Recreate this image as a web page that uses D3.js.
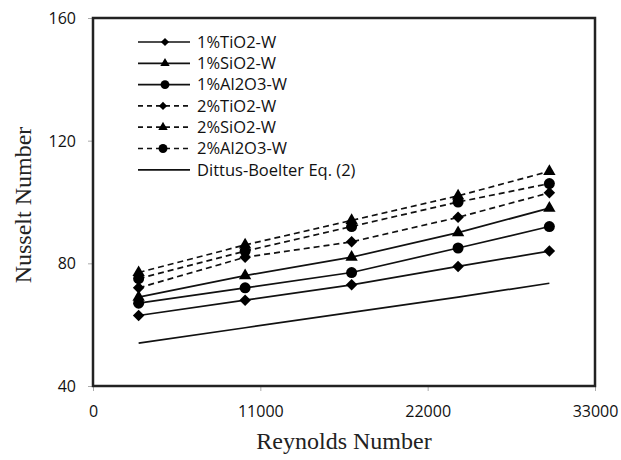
<!DOCTYPE html>
<html lang="en">
<head>
    <meta charset="UTF-8">
    <title>Nusselt vs Reynolds</title>
    <style>
        body { margin: 0; padding: 0; background: #fff; }
        svg { display: block; }
        .tick text { font-family: "Open Sans", sans-serif; font-size: 16px; fill: #111; }
        .axis-title { font-family: "Liberation Serif", "Times New Roman", serif; font-size: 24px; fill: #222; }
        .legend text { font-family: "Open Sans", sans-serif; font-size: 16.5px; fill: #111; }
    </style>
</head>
<body>
<svg id="chart"></svg>

<script src="https://d3js.org/d3.v7.min.js"></script>
<script>
    // Data
    var reynolds = [3000, 10000, 17000, 24000, 30000];
    var tio2_1 = [63, 68, 73, 79, 84];
    var sio2_1 = [69, 76, 82, 90, 98];
    var al2o3_1 = [67, 72, 77, 85, 92];
    var tio2_2 = [72, 82, 87, 95, 103];
    var sio2_2 = [77, 86, 94, 102, 110];
    var al2o3_2 = [75, 84, 92, 100, 106];
    var dittus = [54, 59, 64, 69, 73.5];

    var seriesNames = ["1%TiO2-W", "1%SiO2-W", "1%Al2O3-W", "2%TiO2-W", "2%SiO2-W", "2%Al2O3-W", "Dittus-Boelter Eq. (2)"];
    var seriesValues = [tio2_1, sio2_1, al2o3_1, tio2_2, sio2_2, al2o3_2, dittus];
    var seriesMarkers = ["diamond", "triangle", "circle", "diamond", "triangle", "circle", "none"];
    var seriesDashed = [false, false, false, true, true, true, false];

    var xTicks = [0, 11000, 22000, 33000];
    var yTicks = [40, 80, 120, 160];

    var W = 621, H = 460;
    var margin = {top: 18, right: 26, bottom: 74, left: 93};
    var width = W - margin.left - margin.right,
        height = H - margin.top - margin.bottom;

    var svg = d3.select("#chart").attr("width", W).attr("height", H);
    var g = svg.append("g").attr("transform", "translate(" + margin.left + "," + margin.top + ")");

    var x = d3.scaleLinear().domain([0, 33000]).range([0, width]);
    var y = d3.scaleLinear().domain([40, 160]).range([height, 0]);

    // axes
    var xAxis = g.append("g")
        .attr("transform", "translate(0," + height + ")")
        .call(d3.axisBottom(x).tickValues(xTicks).tickSize(5).tickPadding(15).tickFormat(d3.format("d")));
    var yAxis = g.append("g")
        .call(d3.axisLeft(y).tickValues(yTicks).tickSize(5).tickPadding(12).tickFormat(d3.format("d")));
    [xAxis, yAxis].forEach(function (a) {
        a.select(".domain").remove();
        a.selectAll(".tick line").attr("stroke", "#aaa");
    });
    yAxis.selectAll(".tick text").attr("dy", "0.35em");

    // plot frame
    g.append("rect")
        .attr("x", 0).attr("y", 0)
        .attr("width", width).attr("height", height)
        .attr("fill", "none")
        .attr("stroke", "#222")
        .attr("stroke-width", 2.5);

    function markerPath(type, big) {
        if (type === "diamond") return d3.symbol().type(d3.symbolSquare).size(big ? 66 : 34)();
        if (type === "triangle") return d3.symbol().type(d3.symbolTriangle).size(big ? 66 : 38)();
        if (type === "circle") return d3.symbol().type(d3.symbolCircle).size(big ? 95 : 62)();
        return null;
    }
    function markerRotate(type) {
        return type === "diamond" ? " rotate(45)" : "";
    }

    var line = d3.line()
        .x(function (d, i) { return x(reynolds[i]); })
        .y(function (d) { return y(d); });

    seriesValues.forEach(function (vals, s) {
        g.append("path")
            .attr("d", line(vals))
            .attr("fill", "none")
            .attr("stroke", "#111")
            .attr("stroke-width", 1.7)
            .attr("stroke-dasharray", seriesDashed[s] ? "6,4" : null);
        if (seriesMarkers[s] !== "none") {
            g.selectAll(null).data(vals).enter().append("path")
                .attr("d", markerPath(seriesMarkers[s], true))
                .attr("transform", function (d, i) {
                    return "translate(" + x(reynolds[i]) + "," + y(d) + ")" + markerRotate(seriesMarkers[s]);
                })
                .attr("fill", "#000");
        }
    });

    // legend
    var legend = g.append("g").attr("class", "legend").attr("transform", "translate(45,24)");
    seriesNames.forEach(function (name, s) {
        var row = legend.append("g").attr("transform", "translate(0," + (s * 21.3) + ")");
        row.append("line")
            .attr("x1", 0).attr("x2", 52).attr("y1", 0).attr("y2", 0)
            .attr("stroke", "#111").attr("stroke-width", 1.7)
            .attr("stroke-dasharray", seriesDashed[s] ? "5,4" : null);
        if (seriesMarkers[s] !== "none") {
            row.append("path")
                .attr("d", markerPath(seriesMarkers[s], false))
                .attr("transform", "translate(" + (seriesDashed[s] ? 25 : 27) + ",0)" + markerRotate(seriesMarkers[s]))
                .attr("fill", "#000");
        }
        row.append("text")
            .attr("x", 59).attr("y", 0).attr("dy", "0.35em")
            .text(name);
    });

    // axis titles
    svg.append("text")
        .attr("class", "axis-title")
        .attr("x", margin.left + width / 2)
        .attr("y", 449)
        .attr("text-anchor", "middle")
        .text("Reynolds Number");
    svg.append("text")
        .attr("class", "axis-title")
        .attr("transform", "translate(31," + (205) + ") rotate(-90)")
        .attr("text-anchor", "middle")
        .text("Nusselt Number");
</script>
</body>
</html>
